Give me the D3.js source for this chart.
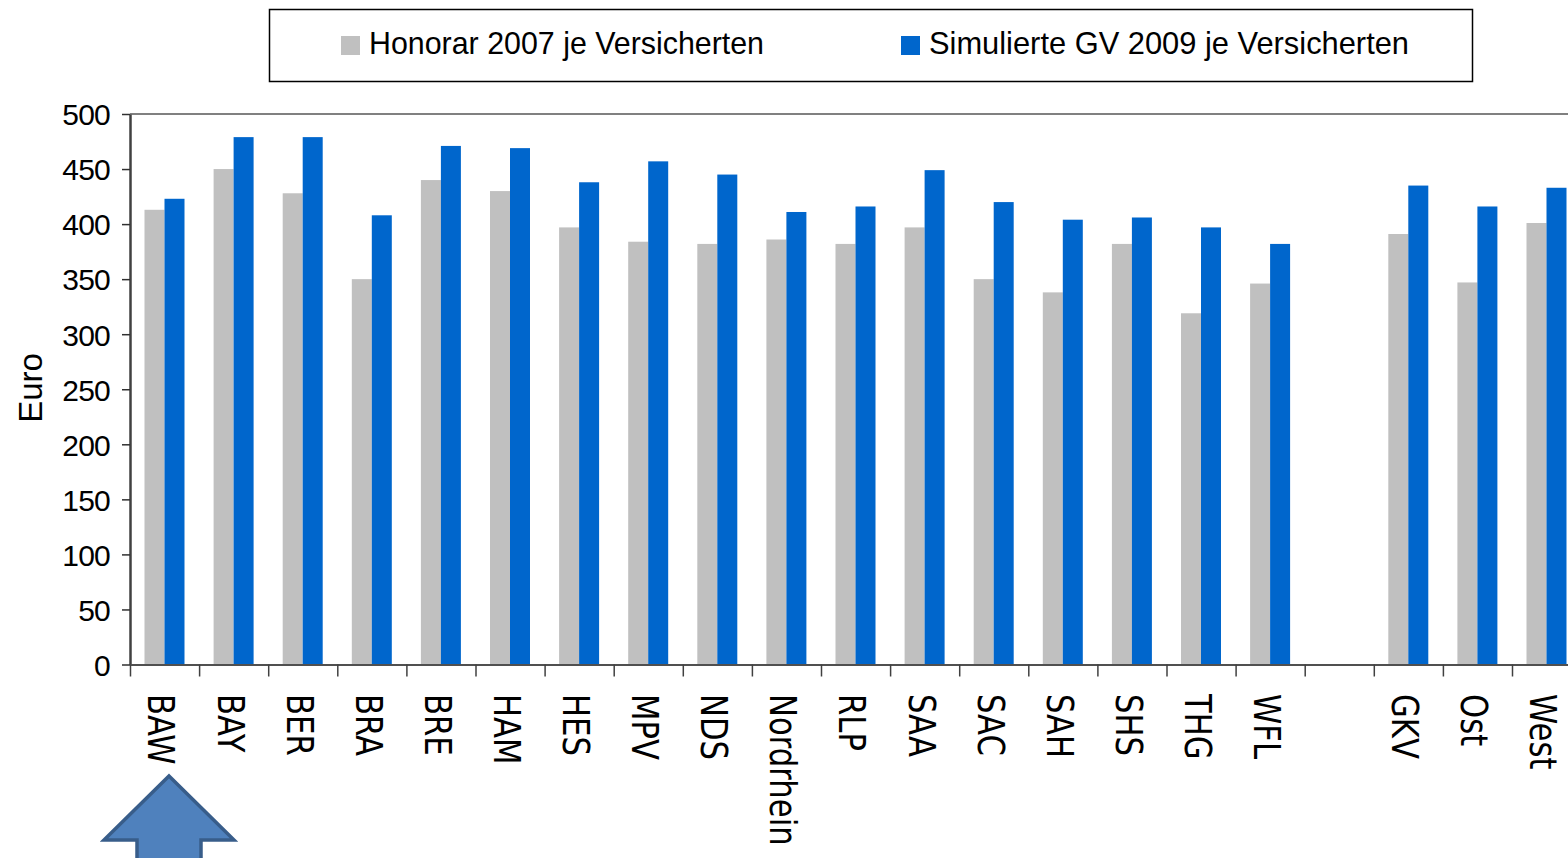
<!DOCTYPE html>
<html>
<head>
<meta charset="utf-8">
<script src="https://cdn.jsdelivr.net/npm/d3@7"></script>
<style>
  html, body { margin: 0; padding: 0; background: #fff; overflow: hidden; }
  svg { display: block; }
</style>
</head>
<body>
<svg id="chart" width="1568" height="858"></svg>
<script>
// ---- data ----
const categories = ["BAW","BAY","BER","BRA","BRE","HAM","HES","MPV","NDS","Nordrhein","RLP","SAA","SAC","SAH","SHS","THG","WFL","","GKV","Ost","West"];
const honorar2007 = [413,450,428,350,440,430,397,384,382,386,382,397,350,338,382,319,346,null,391,347,401];
const simGV2009   = [423,479,479,408,471,469,438,457,445,411,416,449,420,404,406,397,382,null,435,416,433];
const seriesNames = ["Honorar 2007 je Versicherten","Simulierte GV 2009 je Versicherten"];
const seriesColors = ["#C0C0C0","#0066CC"];
const yTicks = [0,50,100,150,200,250,300,350,400,450,500];
const yTitle = "Euro";

const svg = d3.select("#chart");

// ---- scales ----
const plotLeft = 130, plotTop = 114, plotBottom = 664.5;
const bandW = 69.1;
const x = d3.scaleBand().domain(categories.map((c,i)=>i)).range([plotLeft, plotLeft + bandW*categories.length]).padding(0);
const xs = d3.scaleBand().domain([0,1]).range([14.5, 54.5]).padding(0);
const y = d3.scaleLinear().domain([0,500]).range([plotBottom, plotTop]);

// ---- plot top border ----
svg.append("line").attr("x1", plotLeft).attr("x2", 1568).attr("y1", plotTop).attr("y2", plotTop)
  .attr("stroke", "#808080").attr("stroke-width", 2);

// ---- bars ----
const series = [honorar2007, simGV2009];
series.forEach((vals, s) => {
  svg.append("g").selectAll("rect")
    .data(vals.map((v,i)=>({v,i})).filter(d => d.v != null))
    .join("rect")
    .attr("x", d => x(d.i) + xs(s))
    .attr("width", xs.bandwidth())
    .attr("y", d => y(d.v))
    .attr("height", d => y(0) - y(d.v))
    .attr("fill", seriesColors[s]);
});

// ---- y axis ----
const yAxis = svg.append("g").attr("transform", `translate(${plotLeft},0)`)
  .call(d3.axisLeft(y).tickValues(yTicks).tickSize(8).tickSizeOuter(0).tickPadding(12));
yAxis.select(".domain").attr("stroke", "#404040").attr("stroke-width", 2.5);
yAxis.selectAll(".tick line").attr("stroke", "#303030").attr("stroke-width", 1.5);
yAxis.selectAll(".tick text")
  .attr("font-family", "'Liberation Sans', Arial, sans-serif")
  .attr("font-size", 30).attr("fill", "#000")
  .attr("letter-spacing", "-0.8px")
  .attr("dy", "0.36em");

// y title
svg.append("text")
  .attr("transform", "translate(42,388) rotate(-90)")
  .attr("text-anchor", "middle")
  .attr("font-family", "'Liberation Sans', Arial, sans-serif")
  .attr("font-size", 33).attr("fill", "#000")
  .text(yTitle);

// ---- x axis ----
svg.append("line").attr("x1", plotLeft).attr("x2", 1568).attr("y1", plotBottom + 0.5).attr("y2", plotBottom + 0.5)
  .attr("stroke", "#505050").attr("stroke-width", 2);
const boundaries = categories.map((c,i)=>x(i));
svg.append("g").selectAll("line").data(boundaries).join("line")
  .attr("x1", d => d + 0.5).attr("x2", d => d + 0.5)
  .attr("y1", plotBottom).attr("y2", plotBottom + 12)
  .attr("stroke", "#404040").attr("stroke-width", 1.5);

svg.append("g").selectAll("text").data(categories.map((c,i)=>({c,i})).filter(d=>d.c!==""))
  .join("text")
  .attr("transform", d => `translate(${x(d.i) + x.bandwidth()/2 - 3},694) rotate(90) scale(0.93,1.12)`)
  .attr("text-anchor", "start")
  .attr("dominant-baseline", "central")
  .attr("font-family", "'DejaVu Sans', Verdana, sans-serif")
  .attr("font-size", 33).attr("fill", "#000")
  .text(d => d.c);

// ---- legend ----
svg.append("rect").attr("x", 269.5).attr("y", 9.5).attr("width", 1203).attr("height", 72)
  .attr("fill", "#fff").attr("stroke", "#000").attr("stroke-width", 1.5);
const legendItems = [
  {sx: 341, tx: 369, w: 395},
  {sx: 901, tx: 929, w: 480}
];
legendItems.forEach((it, s) => {
  svg.append("rect").attr("x", it.sx).attr("y", 36).attr("width", 19).attr("height", 19).attr("fill", seriesColors[s]);
  svg.append("text").attr("x", it.tx).attr("y", 54)
    .attr("font-family", "'Liberation Sans', Arial, sans-serif")
    .attr("font-size", 32).attr("fill", "#000")
    .attr("textLength", it.w).attr("lengthAdjust", "spacingAndGlyphs")
    .text(seriesNames[s]);
});

// ---- arrow annotation ----
const arrowPts = [[169,776],[234,840],[201,840],[201,870],[137,870],[137,840],[104,840]];
svg.append("path")
  .attr("d", d3.line()(arrowPts) + "Z")
  .attr("fill", "#4F81BD").attr("stroke", "#385D8A").attr("stroke-width", 3.5).attr("stroke-linejoin", "miter");
</script>
</body>
</html>
